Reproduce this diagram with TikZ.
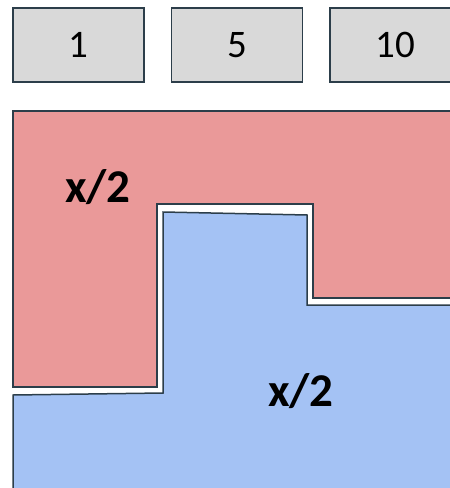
\documentclass[tikz,border=0pt]{standalone}
\usepackage{fontspec}
\setmainfont{Carlito}
\usepackage{tikz}
\usetikzlibrary{positioning}
\definecolor{edge}{RGB}{44,62,74}
\definecolor{boxgray}{RGB}{217,217,217}
\definecolor{halfred}{RGB}{234,153,153}
\definecolor{halfblue}{RGB}{164,194,244}

\begin{document}
\begin{tikzpicture}[x=1pt, y=-1pt,
  coin/.style={draw=edge, line width=1.5pt, fill=boxgray, minimum width=131pt, minimum height=74pt,
               font=\fontsize{39}{42}\selectfont, inner sep=0pt},
  part/.style={draw=edge, line width=1.5pt},
  half/.style={font=\fontsize{47}{50}\selectfont\bfseries},
]
\useasboundingbox (0,0) rectangle (450,488);
\clip (0,0) rectangle (450,488);

% Coins
\node[coin] (one) at (78.5,45) {1};
\node[coin, right=26pt of one] (five) {5};
\node[coin, right=26pt of five] (ten) {10};

% Red part
\draw[part, fill=halfred] (13,111) -- (470,111) -- (470,298) -- (313,298) -- (313,204)
  -- (157,204) -- (157,387) -- (13,387) -- cycle;

% Blue part
\draw[part, fill=halfblue] (163,212) -- (307,215) -- (307,305) -- (470,305) -- (470,510)
  -- (13,510) -- (13,395) -- (163,393) -- cycle;

% Labels
\node[half] (top) at (98,187) {x/2};
\node[half] (bottom) at (301,391) {x/2};
\end{tikzpicture}
\end{document}
